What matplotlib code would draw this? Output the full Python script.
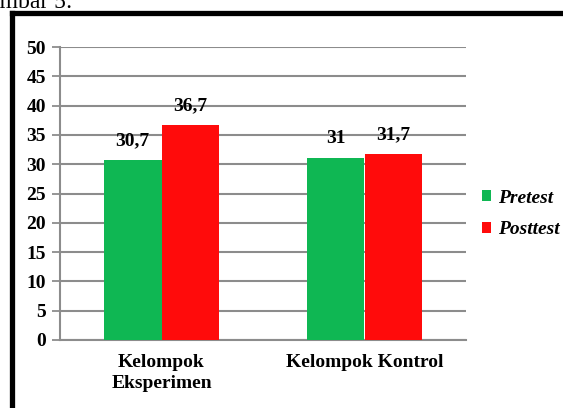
import matplotlib.pyplot as plt
import numpy as np
from matplotlib.lines import Line2D

groups = ['Kelompok\nEksperimen', 'Kelompok Kontrol']
pretest = [30.7, 31]
posttest = [36.7, 31.7]
pre_labels = ['30,7', '31']
post_labels = ['36,7', '31,7']
series_names = ['Pretest', 'Posttest']

plt.rcParams['font.family'] = ['Liberation Serif', 'DejaVu Serif']

green = '#0FB753'
red = '#FF0B0B'
grid_col = '#8C8C8C'

fig = plt.figure(figsize=(5.63, 4.08), dpi=100)
ax = fig.add_axes([60 / 563, 1 - 340 / 408, 406 / 563, 293 / 408])

x = np.arange(len(groups))
w = 0.285
b1 = ax.bar(x - w / 2, pretest, w, color=green, zorder=3, label=series_names[0])
b2 = ax.bar(x + w / 2, posttest, w, color=red, zorder=3, label=series_names[1])

for bars, labs in [(b1, pre_labels), (b2, post_labels)]:
    for bar, lab in zip(bars, labs):
        ax.annotate(lab, (bar.get_x() + bar.get_width() / 2, bar.get_height()),
                    xytext=(0, 8), textcoords='offset points', ha='center', va='bottom',
                    fontsize=14, fontweight='bold', zorder=4)

ax.set_xlim(-0.5, 1.5)
ax.set_ylim(0, 50)
ax.set_yticks(range(0, 51, 5))
ax.yaxis.grid(True, color=grid_col, linewidth=1.5, zorder=0)
ax.set_xticks(x)
ax.set_xticklabels(groups, fontsize=14, fontweight='bold', linespacing=1.3)
ax.tick_params(axis='x', length=0, pad=10)
ax.tick_params(axis='y', length=6, width=1.3, color=grid_col, labelsize=14, pad=4)
for t in ax.get_yticklabels():
    t.set_fontweight('bold')

for s in ['top', 'right']:
    ax.spines[s].set_visible(False)
for s in ['left', 'bottom']:
    ax.spines[s].set_color(grid_col)
    ax.spines[s].set_linewidth(1.5)

leg = ax.legend(loc='center left', bbox_to_anchor=(1.005, 0.43), frameon=False,
                prop={'weight': 'bold', 'style': 'italic', 'size': 14},
                handlelength=0.5, handleheight=0.5, handletextpad=0.35, labelspacing=0.75,
                borderpad=0.2)

# black frame around the figure
fig.add_artist(Line2D([12 / 563, 12 / 563], [0, 1 - 13 / 408], color='black', linewidth=3.8,
                      transform=fig.transFigure, solid_capstyle='projecting'))
fig.add_artist(Line2D([12 / 563, 1.02], [1 - 13 / 408, 1 - 13 / 408], color='black', linewidth=3.8,
                      transform=fig.transFigure, solid_capstyle='projecting'))

fig.text(-28 / 563, 1 - 8 / 408, 'Gambar 5:', fontsize=17, va='baseline', ha='left')

fig.savefig('out.png', dpi=100)
